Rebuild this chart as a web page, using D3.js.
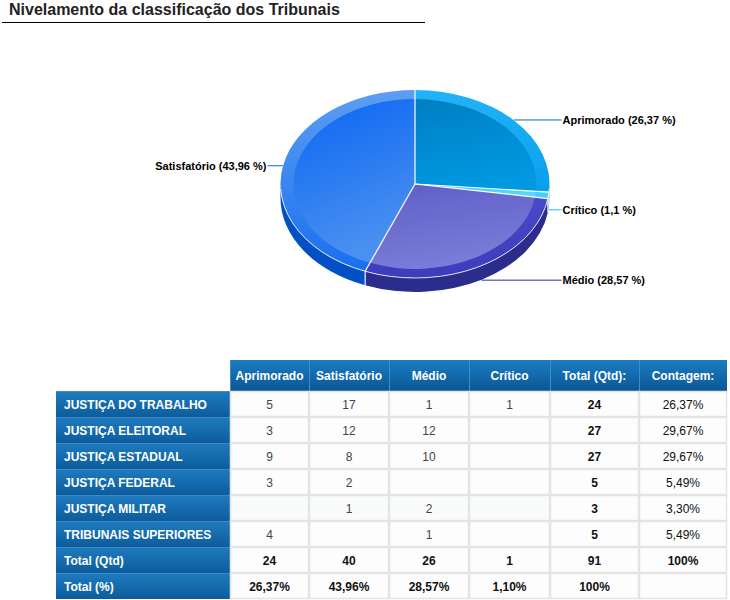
<!DOCTYPE html>
<html>
<head>
<meta charset="utf-8">
<script src="https://cdn.jsdelivr.net/npm/d3@7"></script>
<style>
  body { margin: 0; background: #fff; }
  svg { display: block; font-family: Arial, "Liberation Sans", sans-serif; }
</style>
</head>
<body>
<svg id="chart" width="730" height="600"></svg>
<script>
// pie slices, clockwise from 12 o'clock
const sliceNames = ['Aprimorado', 'Crítico', 'Médio', 'Satisfatório'];
const slicePercents = [26.37, 1.1, 28.57, 43.96];
const sliceLabels = ['Aprimorado (26,37 %)', 'Crítico (1,1 %)', 'Médio (28,57 %)', 'Satisfatório (43,96 %)'];

// table
const columnHeaders = ['Aprimorado', 'Satisfatório', 'Médio', 'Crítico', 'Total (Qtd):', 'Contagem:'];
const rowNames = ['JUSTIÇA DO TRABALHO', 'JUSTIÇA ELEITORAL', 'JUSTIÇA ESTADUAL', 'JUSTIÇA FEDERAL', 'JUSTIÇA MILITAR', 'TRIBUNAIS SUPERIORES'];
const aprimorado = [5, 3, 9, 3, null, 4];
const satisfatorio = [17, 12, 8, 2, 1, null];
const medio = [1, 12, 10, null, 2, 1];
const critico = [1, null, null, null, null, null];
const totalQtd = [24, 27, 27, 5, 3, 5];
const contagem = ['26,37%', '29,67%', '29,67%', '5,49%', '3,30%', '5,49%'];
const totalQtdRow = ['24', '40', '26', '1', '91', '100%'];
const totalPctRow = ['26,37%', '43,96%', '28,57%', '1,10%', '100%', ''];

const svg = d3.select('#chart');
const defs = svg.append('defs');

// ---- title
svg.append('text')
  .attr('x', 9).attr('y', 15)
  .style('font-size', '16px').style('font-weight', 'bold').style('fill', '#222')
  .text('Nivelamento da classificação dos Tribunais');
svg.append('line')
  .attr('x1', 2).attr('x2', 425).attr('y1', 22.5).attr('y2', 22.5)
  .style('stroke', '#000').style('stroke-width', 1);

// ---- 3d pie
const cx = 415, cy = 184, rx = 134.5, ry = 94, depth = 14, rim = 13;
const k = ry / rx;

const styles = {
  'Aprimorado':   { rimTop: '#22b2f8', rimBottom: '#08a0ec', top: '#007ec2', bottom: '#0098e0', side: '#0a78c0', line: '#0a6aa8' },
  'Crítico':      { rimTop: '#4ad6fa', rimBottom: '#40d0f8', top: '#3ccaf6', bottom: '#5ad8fa', side: '#30b4e0', line: '#2ab8ee' },
  'Médio':        { rimTop: '#4c4cca', rimBottom: '#3c3cbc', top: '#5e5ec8', bottom: '#7b7bd8', side: '#2c2c8c', line: '#2e2e9a' },
  'Satisfatório': { rimTop: '#5c9ef2', rimBottom: '#1a6ef0', top: '#0a66f2', bottom: '#4a90f0', side: '#0350c4', line: '#1464e6' }
};

const pie = d3.pie().sort(null).value(d => d)(slicePercents);
pie.forEach((d, i) => { d.name = sliceNames[i]; d.label = sliceLabels[i]; });

function addGradient(id, c0, c1, x2) {
  const g = defs.append('linearGradient').attr('id', id)
    .attr('x1', 0).attr('y1', 0).attr('x2', x2).attr('y2', 1);
  g.append('stop').attr('offset', 0).attr('stop-color', c0);
  g.append('stop').attr('offset', 1).attr('stop-color', c1);
}
pie.forEach((d, i) => {
  const s = styles[d.name];
  addGradient('top-' + i, s.top, s.bottom, 0.3);
  addGradient('rim-' + i, s.rimTop, s.rimBottom, 0);
});

const pt = (a, r = rx) => [cx + r * Math.sin(a), cy - r * k * Math.cos(a)];

// side walls (front half only)
const sides = svg.append('g');
pie.forEach(d => {
  const s = Math.max(d.startAngle, Math.PI / 2);
  const e = Math.min(d.endAngle, 3 * Math.PI / 2);
  if (s >= e) return;
  const p0 = pt(s), p1 = pt(e);
  const path = `M${p0[0]},${p0[1]} A${rx},${ry} 0 0 1 ${p1[0]},${p1[1]}` +
    ` L${p1[0]},${p1[1] + depth} A${rx},${ry} 0 0 0 ${p0[0]},${p0[1] + depth} Z`;
  sides.append('path').attr('d', path).style('fill', styles[d.name].side);
});
// white edges on the wall
pie.forEach(d => {
  const a = d.startAngle;
  if (a > Math.PI / 2 && a < 3 * Math.PI / 2) {
    const p = pt(a);
    sides.append('line').attr('x1', p[0]).attr('y1', p[1]).attr('x2', p[0]).attr('y2', p[1] + depth)
      .style('stroke', '#f0f0ff').style('stroke-width', 1.2);
  }
});

// top faces
const faces = svg.append('g').attr('transform', `translate(${cx},${cy}) scale(1,${k})`);
const arcOuter = d3.arc().innerRadius(0).outerRadius(rx);
const arcInner = d3.arc().innerRadius(0).outerRadius(rx - rim);
faces.selectAll('path.rim').data(pie).join('path')
  .attr('class', 'rim')
  .attr('d', arcOuter)
  .style('fill', (d, i) => `url(#rim-${i})`);
faces.selectAll('path.inner').data(pie).join('path')
  .attr('class', 'inner')
  .attr('d', arcInner)
  .style('fill', (d, i) => `url(#top-${i})`);

// white front edge of the top face
{
  const p0 = pt(Math.PI / 2 + 0.05), p1 = pt(3 * Math.PI / 2 - 0.05);
  svg.append('path')
    .attr('d', `M${p0[0]},${p0[1]} A${rx},${ry} 0 0 1 ${p1[0]},${p1[1]}`)
    .style('fill', 'none').style('stroke', '#ffffff').style('stroke-opacity', 0.8).style('stroke-width', 1);
}
// slice separators
svg.append('g').selectAll('line').data(pie).join('line')
  .attr('x1', cx).attr('y1', cy)
  .attr('x2', d => pt(d.startAngle)[0])
  .attr('y2', d => pt(d.startAngle)[1])
  .style('stroke', '#fff').style('stroke-width', 1.2);

// leader lines + labels
const labels = svg.append('g');
pie.forEach(d => {
  const m = (d.startAngle + d.endAngle) / 2;
  const p = pt(m);
  const y = Math.cos(m) < 0 ? p[1] + depth : p[1] - 1;
  const right = Math.sin(m) > 0;
  const xEnd = right ? cx + rx + 12 : cx - rx - 13;
  labels.append('line')
    .attr('x1', p[0]).attr('y1', y + 0.5).attr('x2', xEnd).attr('y2', y + 0.5)
    .style('stroke', styles[d.name].line).style('stroke-width', 1);
  labels.append('text')
    .attr('x', right ? xEnd + 1 : xEnd - 1).attr('y', y + 4.5)
    .attr('text-anchor', right ? 'start' : 'end')
    .style('font-size', '11px').style('font-weight', 'bold').style('fill', '#000')
    .text(d.label);
});

// ---- table
const colWidths = [174, 79, 80, 80, 81, 89, 88];
const tableLeft = 56;
const colX = d3.cumsum([tableLeft, ...colWidths]);
const headerTop = 360, headerBottom = 391;

const rows = rowNames.map((name, i) => ({
  name,
  cells: [aprimorado[i], satisfatorio[i], medio[i], critico[i], totalQtd[i], contagem[i]]
    .map(v => v == null ? '' : String(v)),
  total: false
}));
rows.push({ name: 'Total (Qtd)', cells: totalQtdRow, total: true });
rows.push({ name: 'Total (%)', cells: totalPctRow, total: true });

const y = d3.scaleBand().domain(d3.range(rows.length)).range([headerBottom, 599]);

addGradient('hdr', '#1c7cc2', '#0a5796', 0);
addGradient('rowhdr', '#1f7bbf', '#0c5c9c', 0);

const table = svg.append('g');

// header cells
const hdr = table.selectAll('g.hdr').data(columnHeaders).join('g').attr('class', 'hdr');
hdr.append('rect')
  .attr('x', (d, i) => colX[i + 1]).attr('y', headerTop)
  .attr('width', (d, i) => colWidths[i + 1]).attr('height', headerBottom - headerTop)
  .style('fill', 'url(#hdr)');
hdr.append('line')
  .attr('x1', (d, i) => colX[i + 1] + 0.5).attr('x2', (d, i) => colX[i + 1] + 0.5)
  .attr('y1', headerTop).attr('y2', headerBottom)
  .style('stroke', '#3f8ccb').style('stroke-width', 1);
hdr.append('text')
  .attr('x', (d, i) => colX[i + 1] + colWidths[i + 1] / 2).attr('y', (headerTop + headerBottom) / 2 + 4.5)
  .attr('text-anchor', 'middle')
  .style('font-size', '12px').style('font-weight', 'bold').style('fill', '#fff')
  .text(d => d);

// body rows
const row = table.selectAll('g.row').data(rows).join('g').attr('class', 'row');
row.append('rect')
  .attr('x', tableLeft).attr('y', (d, i) => y(i))
  .attr('width', colWidths[0]).attr('height', y.bandwidth())
  .style('fill', 'url(#rowhdr)');
row.append('line')
  .attr('x1', tableLeft).attr('x2', colX[1])
  .attr('y1', (d, i) => y(i) + 0.5).attr('y2', (d, i) => y(i) + 0.5)
  .style('stroke', '#4189c4').style('stroke-width', 1);
row.append('text')
  .attr('x', tableLeft + 8).attr('y', (d, i) => y(i) + y.bandwidth() / 2 + 4.5)
  .style('font-size', '12px').style('font-weight', 'bold').style('fill', '#fff')
  .text(d => d.name);

row.each(function (d, ri) {
  const g = d3.select(this);
  d.cells.forEach((v, ci) => {
    const x0 = colX[ci + 1], w = colWidths[ci + 1];
    g.append('rect')
      .attr('x', x0 + 0.5).attr('y', y(ri) + 0.5)
      .attr('width', w - 1).attr('height', y.bandwidth() - 1)
      .style('fill', ri === 4 && ci < 4 ? '#f8fbf9' : '#fdfdfd')
      .style('stroke', '#e4e4e4').style('stroke-width', 1.5);
    const bold = d.total || ci === 4;
    g.append('text')
      .attr('x', x0 + w / 2).attr('y', y(ri) + y.bandwidth() / 2 + 4.5)
      .attr('text-anchor', 'middle')
      .style('font-size', '12px')
      .style('font-weight', bold ? 'bold' : 'normal')
      .style('fill', bold || ci === 5 ? '#111' : '#444')
      .text(v);
  });
});
</script>
</body>
</html>
